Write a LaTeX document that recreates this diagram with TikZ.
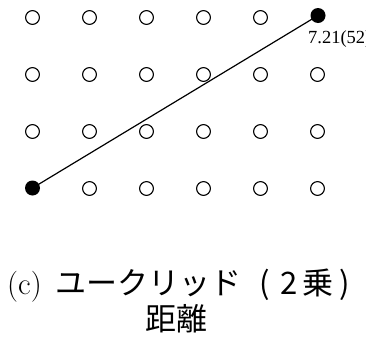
\documentclass[tikz,border=0pt]{standalone}
\usepackage{fontspec}
\newfontfamily\cjk{Noto Sans CJK JP}
\newfontfamily\lab{Liberation Serif}
\begin{document}
\begin{tikzpicture}[x=1pt,y=-1pt,
  opendot/.style={circle,draw=black,line width=1.1pt,minimum size=13.8pt,inner sep=0pt},
  fulldot/.style={circle,fill=black,minimum size=15pt,inner sep=0pt},
  conn/.style={line width=1.2pt},
  lbl/.style={anchor=base west,inner sep=0pt,font=\lab\fontsize{18.5}{20}\selectfont},
  captext/.style={inner sep=0pt,font=\fontsize{31}{37}\selectfont}]
\useasboundingbox (0,0) rectangle (366,338);
\clip (0,0) rectangle (366,338);
\foreach \i in {0,...,5}{
  \foreach \j in {0,...,3}{
    \pgfmathtruncatemacro\k{\i*10+\j}
    \ifnum\k=3\relax\else\ifnum\k=50\relax\else
      \node[opendot] (p\i\j) at ({32.5+57*\i},{17.5+57*\j}) {};
    \fi\fi
  }
}
\node[fulldot] (a) at (32.5,188) {};
\node[fulldot] (b) at (318,15.5) {};
\draw[conn] (a.center) -- (b.center);
\node[lbl] (d) at (308,43.5) {7.21(52)};
\node[captext,anchor=base west] (c1) at (7,294.5)
  {\makebox[48pt][l]{(c)}\makebox[193pt][l]{\cjk ユークリッド}%
   \makebox[33pt][c]{\cjk (}\makebox[15pt][c]{\cjk 2}\hspace{4pt}%
   \makebox[36pt][c]{\cjk 乗}\makebox[17pt][c]{\cjk )}};
\node[captext,anchor=base] (c2) at (176.5,330.5) {\cjk 距離};
\end{tikzpicture}
\end{document}
